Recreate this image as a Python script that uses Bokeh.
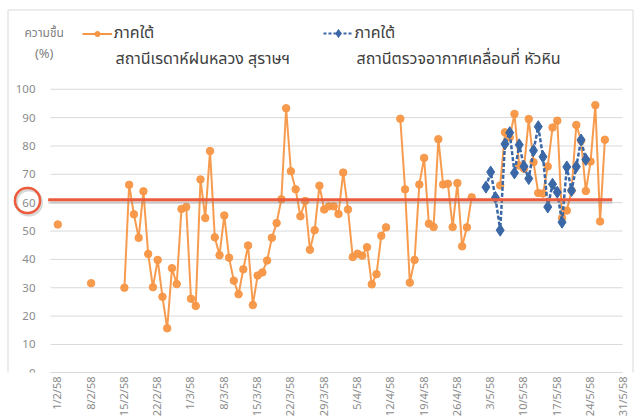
import math
from bokeh.plotting import figure
from bokeh.models import (ColumnDataSource, Legend, LegendItem, Label, BoxAnnotation,
                          FixedTicker, Range1d)
from bokeh.embed import file_html
from bokeh.resources import INLINE
from bokeh.core.properties import value

# ---------------- data ----------------
tick_days = [0, 7, 14, 21, 28, 35, 42, 49, 56, 63, 70, 77, 84, 91, 98, 105, 112, 119]
tick_labels = ["1/2/58", "8/2/58", "15/2/58", "22/2/58", "1/3/58", "8/3/58", "15/3/58",
               "22/3/58", "29/3/58", "5/4/58", "12/4/58", "19/4/58", "26/4/58", "3/5/58",
               "10/5/58", "17/5/58", "24/5/58", "31/5/58"]

# Surat Thani radar station (day index from 1/2/58)
surat_days = [0, 7, 14, 15, 16, 17, 18, 19, 20, 21, 22, 23, 24, 25, 26, 27, 28, 29, 30, 31,
              32, 33, 34, 35, 36, 37, 38, 39, 40, 41, 42, 43, 44, 45, 46, 47, 48, 49, 50, 51,
              52, 53, 54, 55, 56, 57, 58, 59, 60, 61, 62, 63, 64, 65, 66, 67, 68, 69,
              72, 73, 74, 75, 76, 77, 78, 79, 80, 81, 82, 83, 84, 85, 86, 87,
              93, 94, 95, 96, 97, 98, 99, 100, 101, 102, 103, 104, 105, 106, 107, 108, 109,
              110, 111, 112, 113, 114, 115]
surat_values = [52.3, 31.6, 30.0, 66.3, 55.9, 47.6, 64.0, 41.9, 30.2, 39.8, 26.8, 15.7, 36.9,
                31.3, 57.8, 58.5, 26.1, 23.6, 68.2, 54.6, 78.2, 47.8, 41.5, 55.5, 40.6, 32.5,
                27.7, 36.5, 44.9, 23.9, 34.3, 35.4, 39.6, 47.6, 52.8, 61.2, 93.3, 71.1, 64.7,
                55.2, 60.6, 43.4, 50.3, 66.0, 57.6, 58.7, 58.7, 56.0, 70.6, 57.6, 40.8, 42.0,
                41.3, 44.3, 31.2, 34.8, 48.3, 51.3,
                89.6, 64.7, 31.8, 39.8, 66.4, 75.8, 52.6, 51.4, 82.4, 66.4, 66.7, 51.4, 66.9,
                44.6, 51.3, 61.9,
                66.1, 84.8, 83.0, 91.3, 73.1, 72.0, 89.5, 74.3, 63.4, 63.2, 72.8, 86.5, 88.9,
                54.6, 57.2, 64.3, 87.4, 81.9, 64.1, 74.5, 94.4, 53.4, 82.2]

# Hua Hin mobile weather station
huahin_days = [90, 91, 92, 93, 94, 95, 96, 97, 98, 99, 100, 101, 102, 103, 104, 105, 106,
               107, 108, 109, 110, 111]
huahin_values = [65.5, 70.8, 61.8, 50.3, 80.7, 84.7, 70.5, 80.4, 72.8, 68.5, 78.4, 86.8,
                 76.2, 58.5, 66.5, 63.7, 53.1, 72.6, 64.3, 72.7, 82.1, 75.2]

threshold = 61
y_ticks = [0, 10, 20, 30, 40, 50, 60, 70, 80, 90, 100]

# ---------------- layout constants (pixels) ----------------
W, H = 635, 419
AXIS_H = 46                       # height of the bottom axis panel
DAY0_PX, PX_PER_DAY = 57.3, 4.757 # where day 0 sits, spacing of days
ZERO_PX, PX_PER_UNIT = 373.3, 2.843


def day_at(px):
    return (px - DAY0_PX) / PX_PER_DAY


frame_h = H - AXIS_H
x_start, x_end = day_at(0), day_at(W)
y_start = (ZERO_PX - frame_h) / PX_PER_UNIT
y_end = ZERO_PX / PX_PER_UNIT

plot_left, plot_right = day_at(50), day_at(622)

# fill gaps with NaN so the line breaks
all_days = list(range(0, max(surat_days) + 1))
lookup = dict(zip(surat_days, surat_values))
surat_full = [lookup.get(d, float("nan")) for d in all_days]

ORANGE = "#F79646"
BLUE = "#3A68A6"
RED = "#EC5B3B"
GRID = "#D9D9D9"
TXT = "#8C8C8C"
FONT = "'Noto Sans Thai', 'Noto Sans', 'DejaVu Sans'"

p = figure(width=W, height=H, output_backend="svg", toolbar_location=None,
           x_range=Range1d(x_start, x_end), y_range=Range1d(y_start, y_end),
           min_border_left=0, min_border_right=0, min_border_top=0,
           min_border_bottom=AXIS_H)
p.outline_line_color = None
p.background_fill_color = "white"
p.border_fill_color = "white"
p.grid.grid_line_color = None
p.yaxis.visible = False

p.xaxis.ticker = FixedTicker(ticks=tick_days)
p.xaxis.major_label_overrides = {d: l for d, l in zip(tick_days, tick_labels)}
p.xaxis.major_label_orientation = math.pi / 2
p.xaxis.major_tick_line_color = None
p.xaxis.minor_tick_line_color = None
p.xaxis.major_tick_out = 0
p.xaxis.major_tick_in = 0
p.xaxis.minor_tick_out = 0
p.xaxis.major_label_text_color = TXT
p.xaxis.major_label_text_font = FONT
p.xaxis.major_label_text_font_size = "11px"
p.xaxis.major_label_standoff = 4
p.xaxis.axis_line_color = GRID
p.xaxis.bounds = (plot_left, plot_right)

# horizontal gridlines and y tick labels
p.segment(x0=plot_left, x1=plot_right, y0=y_ticks[1:], y1=y_ticks[1:],
          line_color=GRID, line_width=1)
p.text(x=day_at(35), y=y_ticks, text=[str(t) for t in y_ticks], text_align="right",
       text_baseline="middle", text_color=TXT, text_font=value(FONT),
       text_font_size="11.5px")

src = ColumnDataSource(dict(x=all_days, y=surat_full))
hsrc = ColumnDataSource(dict(x=huahin_days, y=huahin_values))

p.line("x", "y", source=src, line_color=ORANGE, line_width=2, line_alpha=0.95)
p.scatter("x", "y", source=src, size=7.5, color=ORANGE, alpha=0.95)
p.line("x", "y", source=hsrc, line_color=BLUE, line_width=2.5, line_dash="4 2")
p.scatter("x", "y", source=hsrc, marker="diamond", size=12, color=BLUE)

# legend-only samples (no visible data)
nan_src = ColumnDataSource(dict(x=[float("nan")], y=[float("nan")]))
lg1 = [p.line("x", "y", source=nan_src, line_color=ORANGE, line_width=2),
       p.scatter("x", "y", source=nan_src, size=5, color=ORANGE)]
lg2 = [p.line("x", "y", source=nan_src, line_color=BLUE, line_width=2, line_dash="3 2"),
       p.scatter("x", "y", source=nan_src, marker="diamond", size=9, color=BLUE)]

# threshold line with a soft shadow
tx = [day_at(47.7), day_at(611.7)]
p.line(tx, [threshold - 0.8, threshold - 0.8], line_color="#808080",
       line_alpha=0.25, line_width=4)
p.line(tx, [threshold, threshold], line_color=RED, line_width=3)

# outer chart border
p.add_layout(BoxAnnotation(left=7.5, right=632.5, top=9.5, bottom=H + 20,
                           left_units="canvas", right_units="canvas",
                           top_units="canvas", bottom_units="canvas",
                           fill_alpha=0, line_color=GRID, line_alpha=1, line_width=1))

# circle around the "60" tick label (with shadow)
p.add_layout(BoxAnnotation(left=16, right=41, top=189.5, bottom=214.5, border_radius=12,
                           left_units="canvas", right_units="canvas",
                           top_units="canvas", bottom_units="canvas",
                           fill_alpha=0, line_color="#808080", line_alpha=0.3, line_width=3))
p.add_layout(BoxAnnotation(left=14.5, right=39.5, top=187.5, bottom=212.5, border_radius=12,
                           left_units="canvas", right_units="canvas",
                           top_units="canvas", bottom_units="canvas",
                           fill_alpha=0, line_color=RED, line_alpha=1, line_width=2.5))

# y-axis title at top left
for txt, yy, fs in (("ความชื้น", 32.5, "12px"), ("(%)", 53.5, "13px")):
    p.add_layout(Label(x=43.7, y=yy, x_units="canvas", y_units="canvas", text=txt,
                       text_align="center", text_baseline="middle", text_color="#7F7F7F",
                       text_font=FONT, text_font_size=fs))


# legends (legend marker size follows the glyph box height)
def make_legend(label, renderers, vx, gh):
    lg = Legend(items=[LegendItem(label=label, renderers=renderers)],
                location=(vx, frame_h - 46), orientation="horizontal", padding=0,
                margin=0, border_line_color=None, background_fill_alpha=0,
                glyph_width=30, glyph_height=gh, label_height=20, label_standoff=2,
                label_text_font=FONT, label_text_font_size="16px",
                label_text_color="#404040")
    p.add_layout(lg, "center")


make_legend("ภาคใต้", lg1, 81.7, 13)
make_legend("ภาคใต้", lg2, 322.5, 20)

for txt, xx in (("สถานีเรดาห์ฝนหลวง สุราษฯ", 115), ("สถานีตรวจอากาศเคลื่อนที่ หัวหิน", 356)):
    p.add_layout(Label(x=xx, y=58.5, x_units="canvas", y_units="canvas", text=txt,
                       text_align="left", text_baseline="middle", text_color="#404040",
                       text_font=FONT, text_font_size="16px"))

open("out.html", "w").write(file_html(p, INLINE))
